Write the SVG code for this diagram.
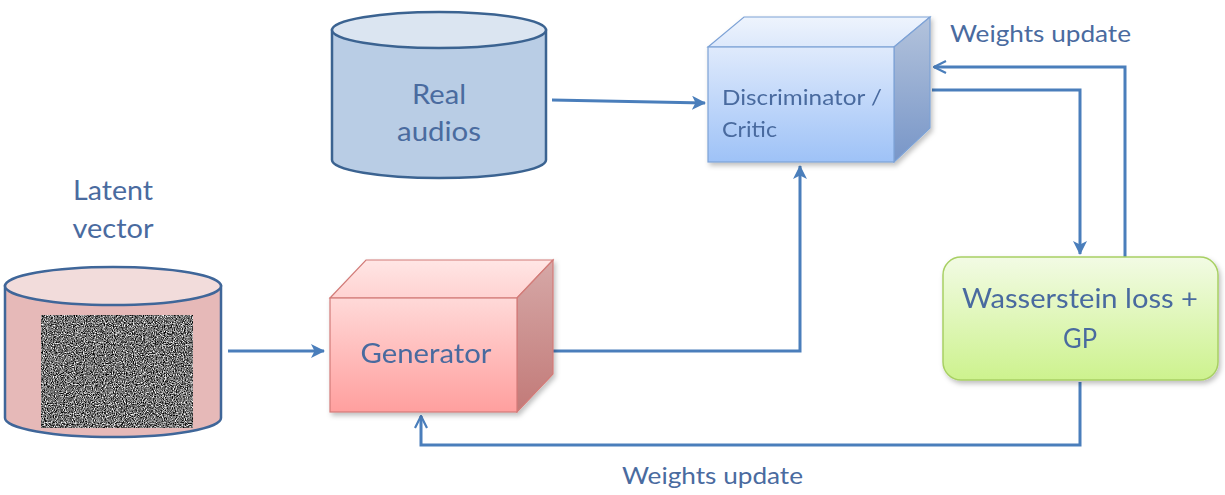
<svg xmlns="http://www.w3.org/2000/svg" width="1225" height="495" viewBox="0 0 1225 495">
<defs>
<style>
.lbl{font-family:"Lato","Liberation Sans",sans-serif;fill:#4a6b9f;}
.conn{fill:none;stroke:#4a7ebb;stroke-width:3;}
</style>
<linearGradient id="genFront" x1="0" y1="0" x2="0" y2="1"><stop offset="0" stop-color="#ffd9d8"/><stop offset="1" stop-color="#ff9f9e"/></linearGradient>
<linearGradient id="genTop" x1="0" y1="0" x2="0" y2="1"><stop offset="0" stop-color="#ffe6e5"/><stop offset="1" stop-color="#ffd2d1"/></linearGradient>
<linearGradient id="genSide" x1="0" y1="0" x2="0" y2="1"><stop offset="0" stop-color="#d6a8a7"/><stop offset="1" stop-color="#c27a78"/></linearGradient>
<linearGradient id="disFront" x1="0" y1="0" x2="0" y2="1"><stop offset="0" stop-color="#dfeafc"/><stop offset="1" stop-color="#9ec2f7"/></linearGradient>
<linearGradient id="disTop" x1="0" y1="0" x2="0" y2="1"><stop offset="0" stop-color="#eef4fd"/><stop offset="1" stop-color="#dce8fb"/></linearGradient>
<linearGradient id="disSide" x1="0" y1="0" x2="0" y2="1"><stop offset="0" stop-color="#b3c3dc"/><stop offset="1" stop-color="#7896c8"/></linearGradient>
<linearGradient id="wFill" x1="0" y1="0" x2="0" y2="1"><stop offset="0" stop-color="#f2fbe4"/><stop offset="1" stop-color="#cdf28e"/></linearGradient>
<filter id="shadow" x="-10%" y="-10%" width="125%" height="130%"><feDropShadow dx="2" dy="3" stdDeviation="2.5" flood-color="#000" flood-opacity="0.25"/></filter>
<filter id="noise" x="0" y="0" width="100%" height="100%" color-interpolation-filters="sRGB">
<feTurbulence type="fractalNoise" baseFrequency="0.9" numOctaves="2" seed="3"/>
<feColorMatrix type="matrix" values="1 0 0 0 0 1 0 0 0 0 1 0 0 0 0 0 0 0 0 1"/>
<feComponentTransfer><feFuncR type="linear" slope="1.9" intercept="-0.5"/><feFuncG type="linear" slope="1.9" intercept="-0.5"/><feFuncB type="linear" slope="1.9" intercept="-0.5"/></feComponentTransfer>
</filter>
<marker id="ah" viewBox="0 0 14 14" refX="13" refY="7" markerWidth="14" markerHeight="14" markerUnits="userSpaceOnUse" orient="auto"><path d="M0,0 L14,7 L0,14 L3.5,7 Z" fill="#4a7ebb"/></marker>
<marker id="ao" viewBox="0 0 14 14" refX="13" refY="7" markerWidth="14" markerHeight="14" markerUnits="userSpaceOnUse" orient="auto"><path d="M1,1 L13,7 L1,13" fill="none" stroke="#4a7ebb" stroke-width="2.2"/></marker>
</defs>

<g id="connectors">
<path class="conn" d="M552,100 L705,103" marker-end="url(#ah)"/>
<path class="conn" d="M228,351 L324,351" marker-end="url(#ah)"/>
<path class="conn" d="M553,351 L800,351 L800,166" marker-end="url(#ah)"/>
<path class="conn" d="M932,90 L1080,90 L1080,254" marker-end="url(#ah)"/>
<path class="conn" d="M1125,257 L1125,67 L934,67" marker-end="url(#ao)"/>
<path class="conn" d="M1080,382 L1080,445 L421,445 L421,416" marker-end="url(#ao)"/>
</g>

<g id="latent-vector">
<text class="lbl" x="113" y="200" font-size="26" text-anchor="middle" textLength="80" lengthAdjust="spacingAndGlyphs">Latent</text>
<text class="lbl" x="113" y="238" font-size="26" text-anchor="middle" textLength="81" lengthAdjust="spacingAndGlyphs">vector</text>
<path d="M5,286 L5,418 A108,19 0 0 0 221,418 L221,286 Z" fill="#e6b9b8" stroke="#3f6699" stroke-width="2.5"/>
<ellipse cx="113" cy="286" rx="108" ry="19" fill="#f2dcdb" stroke="#3f6699" stroke-width="2.5"/>
<rect x="41" y="315" width="152" height="113" fill="#777" filter="url(#noise)"/>
</g>

<g id="real-audios">
<path d="M332,30 L332,160 A107,18 0 0 0 546,160 L546,30 Z" fill="#b9cde5" stroke="#3b6391" stroke-width="2.5"/>
<ellipse cx="439" cy="30" rx="107" ry="18" fill="#dbe5f1" stroke="#3b6391" stroke-width="2.5"/>
<text class="lbl" x="439" y="104" font-size="26" text-anchor="middle" textLength="54" lengthAdjust="spacingAndGlyphs">Real</text>
<text class="lbl" x="439" y="141" font-size="26" text-anchor="middle" textLength="84" lengthAdjust="spacingAndGlyphs">audios</text>
</g>

<g id="generator" filter="url(#shadow)">
<path d="M330,298 L366,260 L553,260 L517,298 Z" fill="url(#genTop)" stroke="#d27b78" stroke-width="1.2"/>
<path d="M517,298 L553,260 L553,374 L517,412 Z" fill="url(#genSide)" stroke="#d27b78" stroke-width="1.2"/>
<rect x="330" y="298" width="187" height="114" fill="url(#genFront)" stroke="#d27b78" stroke-width="1.2"/>
<text class="lbl" x="426" y="363" font-size="27" text-anchor="middle" textLength="131" lengthAdjust="spacingAndGlyphs">Generator</text>
</g>

<g id="discriminator" filter="url(#shadow)">
<path d="M708,47 L744,17 L930,17 L894,47 Z" fill="url(#disTop)" stroke="#7da2d6" stroke-width="1.2"/>
<path d="M894,47 L930,17 L930,128 L894,162 Z" fill="url(#disSide)" stroke="#7da2d6" stroke-width="1.2"/>
<rect x="708" y="47" width="186" height="115" fill="url(#disFront)" stroke="#7da2d6" stroke-width="1.2"/>
<text class="lbl" x="722" y="105" font-size="22" textLength="160" lengthAdjust="spacingAndGlyphs">Discriminator /</text>
<text class="lbl" x="722" y="137" font-size="22" textLength="55" lengthAdjust="spacingAndGlyphs">Critic</text>
</g>

<g id="wasserstein" filter="url(#shadow)">
<rect x="943" y="257" width="275" height="123" rx="18" ry="18" fill="url(#wFill)" stroke="#a8d064" stroke-width="1.5"/>
<text class="lbl" x="1080" y="308" font-size="26" text-anchor="middle" textLength="236" lengthAdjust="spacingAndGlyphs">Wasserstein loss +</text>
<text class="lbl" x="1080" y="348" font-size="26" text-anchor="middle" textLength="34" lengthAdjust="spacingAndGlyphs">GP</text>
</g>

<g id="labels">
<text class="lbl" x="950" y="42" font-size="23" textLength="181" lengthAdjust="spacingAndGlyphs">Weights update</text>
<text class="lbl" x="622" y="484" font-size="23" textLength="181" lengthAdjust="spacingAndGlyphs">Weights update</text>
</g>
</svg>
